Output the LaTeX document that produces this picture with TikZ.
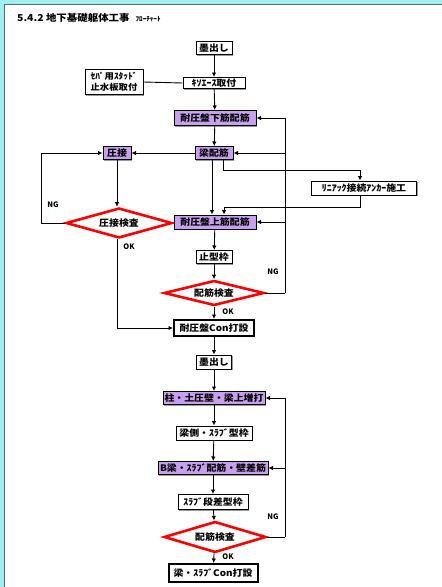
\documentclass[tikz,border=0pt]{standalone}
\usepackage{fontspec}
\setmainfont{Noto Sans CJK JP}
\newfontfamily\jpw{Noto Sans CJK JP}[FakeStretch=1.1]
\usetikzlibrary{arrows.meta,shapes.geometric,shadows}
\definecolor{pur}{RGB}{200,160,240}
\definecolor{cyanbg}{RGB}{160,240,240}
\tikzset{
  box/.style={draw=black, line width=1pt, fill=white, inner sep=0.5pt,
    font=\jpw\fontsize{9}{10}\selectfont\bfseries, minimum height=13pt,
    drop shadow={shadow xshift=1.2pt,shadow yshift=-1.2pt,fill=gray!80,opacity=1}},
  pbox/.style={box, fill=pur},
  cbox/.style={box, line width=2pt, minimum height=16pt},
  dia/.style={diamond, aspect=3.5, draw=red, line width=2.6pt, fill=white, inner sep=0pt,
    font=\jpw\fontsize{9}{10}\selectfont\bfseries},
  arr/.style={-{Latex[length=4.5pt,width=4.5pt]}, line width=0.9pt},
  ln/.style={line width=0.9pt},
  lab/.style={font=\fontsize{7.5}{8}\selectfont\bfseries, inner sep=0pt}
}
\begin{document}
\begin{tikzpicture}[x=1pt,y=-1pt]
\useasboundingbox (0,0) rectangle (442,587);
\fill[white] (0,0) rectangle (442,587);
\fill[cyanbg] (0,0) rectangle (3.5,587);
\fill[cyanbg] (0,0) rectangle (442,4);
\draw[black!60, line width=1.2pt] (4.6,587) -- (4.6,4.6) -- (442,4.6);

\node[anchor=west, inner sep=0pt] (title) at (17,18)
  {\jpw\fontsize{9.5}{10}\selectfont\bfseries 5.4.2 地下基礎躯体工事\hspace{6pt}{\fontsize{6.5}{7}\selectfont ﾌﾛｰﾁｬｰﾄ}};

\node[box, minimum width=36pt] (m1) at (214,48) {墨出し};
\node[box, minimum width=62pt, minimum height=11pt] (k) at (214,83) {ｷｿｴｰｽ取付};
\node[box, minimum width=58pt, minimum height=25pt, align=center, font=\jpw\fontsize{8.5}{10.5}\selectfont\bfseries] (sep) at (114,82) {ｾﾊﾟ用ｽﾀｯﾄﾞ\\止水板取付};
\node[pbox, minimum width=82pt, minimum height=15pt] (ta) at (215,118) {耐圧盤下筋配筋};
\node[pbox, minimum width=38pt] (h) at (214,153) {梁配筋};
\node[pbox, minimum width=28pt] (az) at (117,153) {圧接};
\node[dia, minimum width=106pt, minimum height=30pt] (azc) at (119,223) {圧接検査};
\node[box, minimum width=105pt, minimum height=14pt] (lin) at (364,188) {ﾘﾆｱｯｸ接続ｱﾝｶｰ施工};
\node[pbox, minimum width=82pt, minimum height=14pt] (tu) at (215,222) {耐圧盤上筋配筋};
\node[box, minimum width=36pt] (sk) at (214,257) {止型枠};
\node[dia, minimum width=100pt, minimum height=25pt] (hc1) at (214,293) {配筋検査};
\node[cbox, minimum width=80pt] (con1) at (214,328) {耐圧盤Con打設};
\node[box, minimum width=35pt, minimum height=14pt] (m2) at (214,362) {墨出し};
\node[pbox, minimum width=102pt] (col) at (214,398) {柱・土圧壁・梁上増打};
\node[box, minimum width=76pt, minimum height=14pt] (ys) at (214,433) {梁側・ｽﾗﾌﾞ型枠};
\node[pbox, minimum width=110pt] (bb) at (213,468) {B梁・ｽﾗﾌﾞ配筋・壁差筋};
\node[box, minimum width=70pt, minimum height=15pt] (sd) at (213,502) {ｽﾗﾌﾞ段差型枠};
\node[dia, minimum width=102pt, minimum height=31pt] (hc2) at (215,537) {配筋検査};
\node[cbox, minimum width=89pt, minimum height=18pt] (con2) at (213,573) {梁・ｽﾗﾌﾞCon打設};

% main spine
\draw[arr] (m1) -- (k);
\draw[ln] (k.west) -- (sep.east);
\draw[arr] (k) -- (ta);
\draw[arr] (ta) -- (h);
\draw[arr] (h.west) -- (az.east);
\draw[arr] (az.south) -- (az.south |- azc.north);
\draw[arr] (azc.west) -- ++(-23,0) |- (az.west);
\node[lab] (ng1) at (53,205) {NG};
\draw[arr] (azc.south -| az.south) |- (con1.west);
\node[lab] (ok1) at (129,247) {OK};
\draw[arr] ([xshift=-2pt]h.south) -- ([xshift=-2pt]h.south |- tu.north);
\draw[arr] ([xshift=9pt]h.south) -- ++(0,10) -| ([xshift=-4pt]lin.north);
\draw[arr] ([xshift=-4pt]lin.south) -- ++(0,12) -| ([xshift=9pt]tu.north);
\draw[arr] (tu) -- (sk);
\draw[arr] (sk) -- (hc1);
\draw[arr] (hc1) -- (con1);
\node[lab] (ok2) at (228,312) {OK};
\draw[ln] (hc1.east) -- ++(20,0) coordinate (ngr1);
\draw[arr] (ngr1) |- (ta.east);
\draw[arr] (ngr1 |- h) -- (h.east);
\draw[arr] (ngr1 |- tu) -- (tu.east);
\node[lab] (ng2) at (273,272) {NG};

\draw[arr] (con1) -- (m2);
\draw[arr] (m2) -- (col);
\draw[arr] (col) -- (ys);
\draw[arr] (ys) -- (bb);
\draw[arr] (bb) -- (sd);
\draw[arr] (sd) -- (hc2);
\draw[arr] (hc2) -- (con2);
\node[lab] (ok3) at (228,557) {OK};
\draw[ln] (hc2.east) -- ++(18,0) coordinate (ngr2);
\draw[arr] (ngr2) |- (col.east);
\draw[arr] (ngr2 |- bb) -- (bb.east);
\node[lab] (ng3) at (273,517) {NG};
\end{tikzpicture}
\end{document}
